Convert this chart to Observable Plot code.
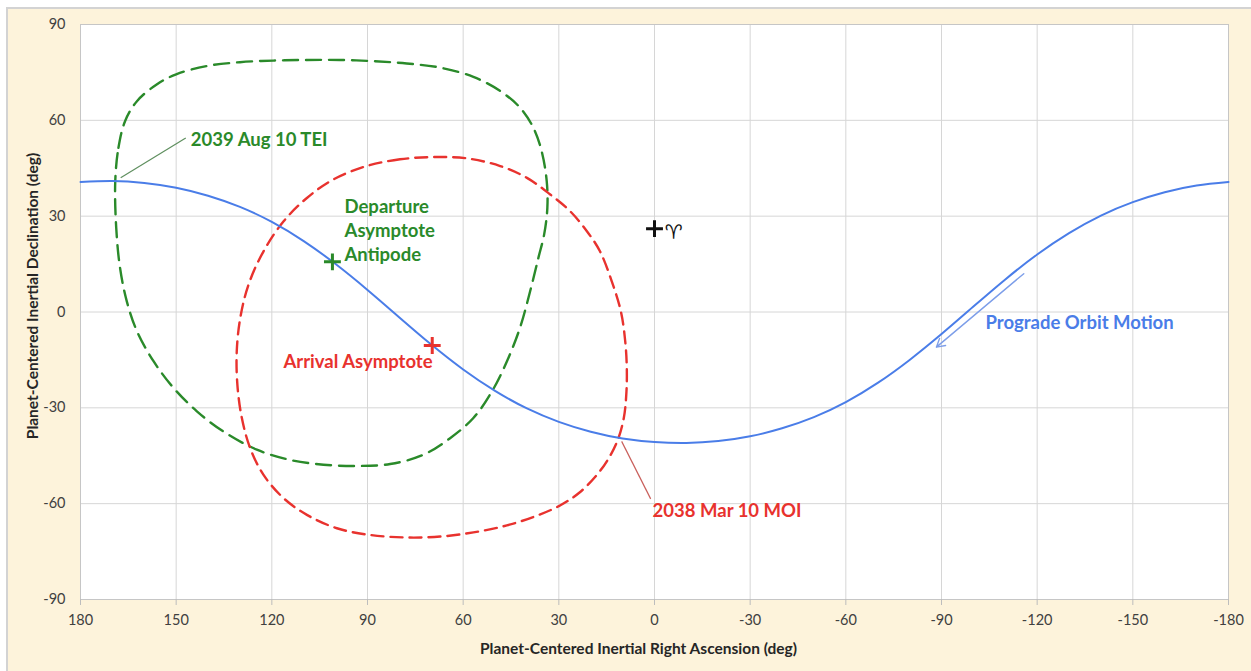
<!DOCTYPE html>
<html>
<head>
<meta charset="utf-8">
<script src="https://cdn.jsdelivr.net/npm/d3@7"></script>
<script src="https://cdn.jsdelivr.net/npm/@observablehq/plot@0.6"></script>
<style>
  body { margin: 0; background: #ffffff; }
  #wrap { position: relative; width: 1251px; height: 671px; overflow: hidden; }
  #panel { position: absolute; left: 6px; top: 7px; right: -4px; bottom: -4px;
           background: #fdf3db; border-left: 2px solid #d3d3d3; border-top: 2px solid #d3d3d3; }
  #chart { position: absolute; left: 0; top: 0; }
</style>
</head>
<body>
<div id="wrap"><div id="panel"></div><div id="chart"></div></div>
<script>
// Axis ticks
const raTicks = [180, 150, 120, 90, 60, 30, 0, -30, -60, -90, -120, -150, -180];
const decTicks = [90, 60, 30, 0, -30, -60, -90];

// Orbit ground track (right ascension, declination in deg)
const orbitRA  = [180, 170, 160, 150, 140, 130, 120, 110, 100, 90, 80, 70, 60, 50, 40, 30, 20, 10, 0,
                  -10, -20, -30, -40, -50, -60, -70, -80, -90, -100, -110, -120, -130, -140, -150, -160, -170, -180];
const orbitDec = [40.7, 41.0, 40.4, 38.9, 36.4, 32.9, 28.2, 22.2, 15.0, 6.9, -1.7, -10.2, -18.0, -24.7, -30.2, -34.4, -37.5, -39.6, -40.7,
                  -41.0, -40.4, -38.9, -36.4, -32.9, -28.2, -22.2, -15.0, -6.9, 1.7, 10.2, 18.0, 24.7, 30.2, 34.4, 37.5, 39.6, 40.7];

// Departure asymptote antipode locus (closed)
const depRA  = [169.1, 168.1, 166.0, 162.3, 156.0, 150.0, 140.4, 130.0, 119.5, 109.0, 98.6, 88.0, 77.7, 67.2, 56.8, 48.4,
                42.2, 38.0, 35.4, 33.8, 33.6, 34.6, 36.4, 39.0, 42.2, 46.3, 51.0, 56.8, 64.1, 72.5, 82.9, 93.4,
                103.8, 114.3, 124.7, 135.2, 143.5, 150.8, 157.1, 162.3, 165.5, 167.6, 168.8];
const depDec = [41.0, 51.4, 59.8, 66.0, 71.3, 74.4, 77.0, 78.2, 78.7, 78.9, 78.9, 78.5, 77.8, 76.5, 73.6, 69.2,
                64.0, 57.7, 50.4, 41.0, 32.6, 24.3, 17.0, 6.5, -5.0, -15.5, -24.9, -33.2, -39.5, -44.7, -47.6, -48.2,
                -47.8, -46.3, -43.1, -37.4, -31.1, -23.8, -15.4, -6.0, 3.4, 13.8, 26.4];

// Arrival asymptote locus (closed)
const arrRA  = [69.3, 79.8, 90.2, 100.7, 109.0, 116.3, 122.6, 127.3, 129.9, 131.0, 130.8, 129.4, 126.8, 122.6, 116.3, 109.0,
                99.6, 89.2, 77.7, 67.2, 56.8, 46.3, 37.0, 29.5, 23.5, 18.5, 14.8, 11.5, 9.6, 8.8, 8.7, 9.2,
                10.5, 13.4, 17.1, 21.2, 26.5, 32.7, 40.0, 48.4, 58.9];
const arrDec = [48.5, 47.8, 45.7, 41.5, 35.7, 28.4, 19.0, 8.6, -1.9, -12.3, -22.8, -33.2, -42.6, -51.0, -58.3, -63.5,
                -67.7, -69.8, -70.6, -70.3, -69.0, -66.8, -63.8, -60.5, -56.5, -51.5, -46.5, -40.0, -33.0, -25.0, -17.0, -9.0,
                0.0, 9.6, 19.0, 25.3, 31.6, 36.8, 42.0, 45.7, 48.1];

// Marked points
const markNames = ["Departure Asymptote Antipode", "Arrival Asymptote", "Vernal Equinox"];
const markRA    = [101, 69.7, 0];
const markDec   = [15.7, -10.5, 26.1];
const markColor = ["#2a8a2a", "#e8322e", "#111111"];

// Annotations
const noteText   = ["2039 Aug 10 TEI", "2038 Mar 10 MOI", "Departure\nAsymptote\nAntipode", "Arrival Asymptote", "Prograde Orbit Motion"];
const noteRA     = [145.4, 0.6, 97.2, 69.6, -103.8];
const noteDec    = [54.5, -61.8, 25.8, -15.0, -2.8];
const noteAnchor = ["start", "start", "start", "end", "start"];
const noteColor  = ["#2a8a2a", "#e8322e", "#2a8a2a", "#e8322e", "#4a7de8"];

// Leader lines: [ra1, dec1, ra2, dec2]
const leaderTEI = [167.4, 42.0, 147.0, 54.5];
const leaderMOI = [10.3, -40.5, 1.2, -58.5];
const motionArrow = [-115.8, 12.0, -88.4, -11.0];

const toRows = (xs, ys) => xs.map((x, i) => ({ra: x, dec: ys[i]}));
const orbit = toRows(orbitRA, orbitDec);
const departure = toRows(depRA, depDec);
const arrival = toRows(arrRA, arrDec);
const marks = markNames.map((n, i) => ({name: n, ra: markRA[i], dec: markDec[i], color: markColor[i]}));
const notes = noteText.map((t, i) => ({text: t, ra: noteRA[i], dec: noteDec[i], anchor: noteAnchor[i], color: noteColor[i]}));
const leaders = [
  {x1: leaderTEI[0], y1: leaderTEI[1], x2: leaderTEI[2], y2: leaderTEI[3], color: "#5f8f5f"},
  {x1: leaderMOI[0], y1: leaderMOI[1], x2: leaderMOI[2], y2: leaderMOI[3], color: "#c9605c"}
];

const fmt = d => String(d);
const font = "Lato, 'Open Sans', sans-serif";
const noteStyle = {x: "ra", y: "dec", text: "text", fill: "color", fontWeight: "bold", fontSize: 18.5, lineHeight: 1.3};
const titleStyle = {fontWeight: "bold", fontSize: 15.5, fill: "#262626", textAnchor: "middle", lineAnchor: "middle"};

const chart = Plot.plot({
  width: 1251,
  height: 671,
  marginLeft: 80,
  marginRight: 23,
  marginTop: 24,
  marginBottom: 72,
  style: {background: "transparent", fontFamily: font, fontSize: "14px", color: "#404040"},
  x: {domain: [180, -180], label: null},
  y: {domain: [-90, 90], label: null},
  marks: [
    Plot.frame({fill: "white", stroke: "none"}),
    Plot.gridX(raTicks, {stroke: "#d6d6d6", strokeOpacity: 1}),
    Plot.gridY(decTicks, {stroke: "#d6d6d6", strokeOpacity: 1}),
    Plot.frame({stroke: "#c6c6c6"}),
    Plot.axisX(raTicks, {tickSize: 6, tickPadding: 9, tickFormat: fmt, stroke: "#bdbdbd", fill: "#404040", fontSize: 14.5}),
    Plot.axisY(decTicks, {tickSize: 0, tickPadding: 15, tickFormat: fmt, fill: "#404040", fontSize: 14.5}),
    Plot.text(["Planet-Centered Inertial Right Ascension (deg)"],
      {...titleStyle, frameAnchor: "bottom", dy: 50, dx: -16}),
    Plot.text(["Planet-Centered Inertial Declination (deg)"],
      {...titleStyle, frameAnchor: "left", rotate: -90, dx: -47, dy: -16}),
    Plot.line(departure, {x: "ra", y: "dec", stroke: "#2a8a2a", strokeWidth: 2.4, strokeDasharray: "15,8", curve: "catmull-rom-closed"}),
    Plot.line(arrival, {x: "ra", y: "dec", stroke: "#e8322e", strokeWidth: 2.4, strokeDasharray: "12,7", curve: "catmull-rom-closed"}),
    Plot.line(orbit, {x: "ra", y: "dec", stroke: "#4a7de8", strokeWidth: 2, curve: "natural"}),
    Plot.link(leaders, {x1: "x1", y1: "y1", x2: "x2", y2: "y2", stroke: "color", strokeWidth: 1.2}),
    Plot.arrow([motionArrow], {x1: d => d[0], y1: d => d[1], x2: d => d[2], y2: d => d[3],
      stroke: "#7d9ee9", strokeWidth: 1.4, headLength: 10}),
    Plot.dot(marks, {x: "ra", y: "dec", symbol: "plus", r: 5.5, stroke: "color", strokeWidth: 3}),
    Plot.text(["\u2648"], {x: -6, y: 25, fontSize: 20, fontFamily: "DejaVu Sans", fill: "#111111"}),
    Plot.text(notes.filter(d => d.anchor === "start"), {...noteStyle, textAnchor: "start"}),
    Plot.text(notes.filter(d => d.anchor === "end"), {...noteStyle, textAnchor: "end"})
  ]
});
document.getElementById("chart").appendChild(chart);
</script>
</body>
</html>
